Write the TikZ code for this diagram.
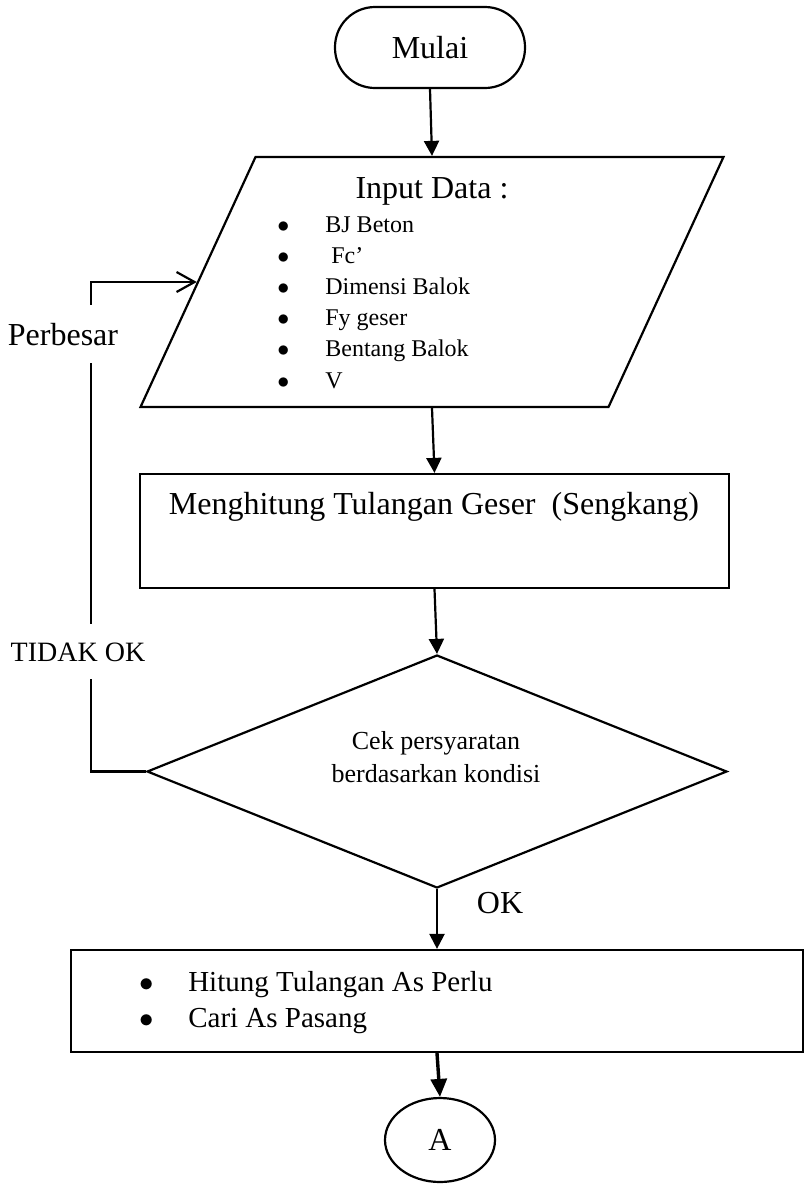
\documentclass[tikz,border=0pt]{standalone}
\usepackage{fontspec}
\setmainfont{Liberation Serif}
\usepackage{tikz}
\usetikzlibrary{arrows.meta, shapes.geometric}

\newcommand{\fontpt}[2]{\fontsize{#1}{#2}\selectfont}
\newcommand{\itemdot}{$\bullet$}
\tikzset{
  box/.style={draw, line width=1.1pt, rectangle, inner sep=0pt},
  flow/.style={-{Triangle[length=7.5pt, width=7.5pt]}, line width=1.1pt},
  thickflow/.style={-{Triangle[length=9pt, width=8pt]}, line width=1.7pt},
  loopline/.style={-{Straight Barb[length=9pt, width=10pt]}, line width=1.1pt},
  looplabel/.style={fill=white, inner xsep=1pt, inner ysep=9pt},
}

\begin{document}
\begin{tikzpicture}[x=0.5pt, y=-0.5pt]
    \useasboundingbox (0,0) rectangle (808,1184);

    % Start terminal
    \node[box, rounded corners=20pt, minimum width=95pt, minimum height=40.5pt, font=\fontpt{16}{19}] (mulai) at (430,47.5) {Mulai};

    % Input data (parallelogram)
    \node[draw, line width=1.1pt, trapezium, trapezium left angle=65.3, trapezium right angle=114.7, inner sep=0pt, text width=176.5pt, text height=62.5pt, text depth=62.5pt] (input) at (432,282) {};
    \node[anchor=base, font=\fontpt{16}{19}] (inputtitle) at (432,198) {Input Data :};
    \node[anchor=base west, inner sep=0pt, font=\fontpt{12}{15.6}] (inputlist) at (277,232) {%
        \begin{tabular}[t]{@{}l@{\hspace{18pt}}l@{}}
            \itemdot & BJ Beton\\
            \itemdot & \ Fc’\\
            \itemdot & Dimensi Balok\\
            \itemdot & Fy geser\\
            \itemdot & Bentang Balok\\
            \itemdot & V
        \end{tabular}};

    % Shear reinforcement calculation
    \node[box, minimum width=294.5pt, minimum height=57pt] (hitung) at (434.5,531) {};
    \node[anchor=base, font=\fontpt{16}{19}] (hitungtext) at (434,514) {Menghitung Tulangan Geser\ \ (Sengkang)};

    % Decision
    \node[draw, line width=1.1pt, diamond, shape aspect=2.49, inner sep=0pt, minimum width=290pt, minimum height=116.5pt] (cek) at (437,771.5) {};
    \node[anchor=base, font=\fontpt{13}{16.5}] (cektext) at (436,749) {%
        \begin{tabular}[t]{@{}c@{}}Cek persyaratan\\berdasarkan kondisi\end{tabular}};

    % Required / provided steel
    \node[box, minimum width=366pt, minimum height=51pt] (asperlu) at (437,1001) {};
    \node[anchor=base west, inner sep=0pt, font=\fontpt{14.5}{18}] (asperlutext) at (139,991) {%
        \begin{tabular}[t]{@{}l@{\hspace{17.25pt}}l@{}}
            \itemdot & Hitung Tulangan As Perlu\\
            \itemdot & Cari As Pasang
        \end{tabular}};

    % Off-page connector
    \node[draw, line width=1.1pt, ellipse, inner sep=0pt, minimum width=55pt, minimum height=42pt, font=\fontpt{16}{19}] (konektor) at (440,1140) {A};

    % Main flow
    \draw[flow] (mulai.south) -- (input.90);
    \draw[flow] (input.270) -- (hitung.north);
    \draw[flow] (hitung.south) -- (cek.north);
    \draw[flow] (cek.south) -- (asperlu.north);
    \draw[thickflow] (asperlu.south) -- (konektor.north);

    % Loop back when check fails
    \draw[loopline] (cek.west) -- ++(-55,0) |- (input.180);
    \node[looplabel, anchor=base, font=\fontpt{14}{17}] (tidakok) at (78,661) {TIDAK OK};
    \node[looplabel, anchor=base, font=\fontpt{16}{19}] (perbesar) at (63,345) {Perbesar};
    \node[anchor=base, font=\fontpt{16}{19}] (ok) at (500,913) {OK};
\end{tikzpicture}
\end{document}
